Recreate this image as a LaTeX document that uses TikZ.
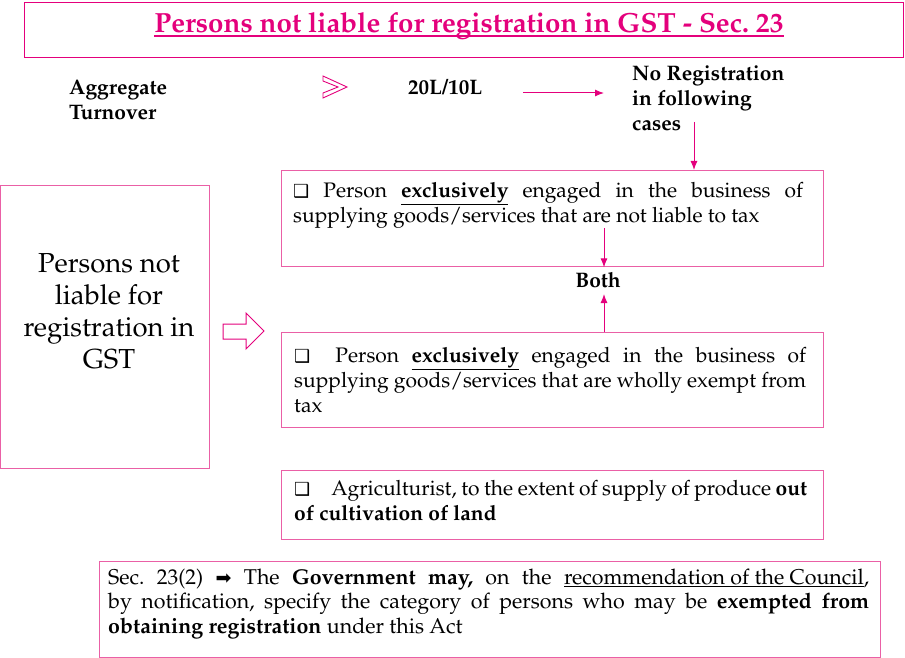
\documentclass[tikz,border=0pt]{standalone}
\usepackage[T1]{fontenc}
\usepackage{fontspec}
\newfontfamily\dejavu{DejaVu Sans}
\newcommand\pal{\fontencoding{T1}\fontfamily{ppl}\selectfont\frenchspacing}
\newcommand\sqb{{\dejavu\fontsize{18}{18}\selectfont ❑}}
\newcommand\myul[1]{$\underline{\hbox{#1}}$}
\definecolor{mag}{RGB}{228,0,124}
\definecolor{pinkb}{RGB}{234,96,166}
\usetikzlibrary{arrows.meta}
\tikzset{
  box/.style={draw=pinkb, line width=1.4pt, inner sep=0pt, anchor=north west},
  conn/.style={draw=mag, line width=1pt, -{Latex[length=9pt,width=7pt]}},
  txt/.style={inner sep=0pt, anchor=base west, font=\pal\fontsize{21}{25}\selectfont},
  lbl/.style={inner sep=0pt, anchor=base west, font=\pal\bfseries\fontsize{21}{25}\selectfont},
}
\begin{document}
\begin{tikzpicture}[x=1pt,y=-1pt]
\useasboundingbox (0,0) rectangle (905,658);
% title
\node[draw=mag, line width=1.4pt, minimum width=879, minimum height=55, anchor=north west] (tb) at (24,2) {};
\node[inner sep=0pt, anchor=base, font=\pal\bfseries\fontsize{27.7}{30}\selectfont, text=mag] (tt) at (469,33) {Persons not liable for registration in GST - Sec. 23};
\draw[mag, line width=1.2pt] ([yshift=-3pt]tt.base west) -- ([yshift=-3pt]tt.base east);
% top row
\node[lbl] (agg) at (69,95) {\parbox[t]{150pt}{\raggedright Aggregate\\Turnover}};
\draw[mag, line width=0.9pt, fill=white] (323,76) -- (347,87) -- (323,98) -- (323,93) -- (338,87) -- (323,81) -- cycle;
\node[lbl] (amt) at (408,95) {20L/10L};
\node[lbl] (noreg) at (632,81) {\parbox[t]{180pt}{\raggedright No Registration\\in following\\cases}};
\coordinate (a1s) at (523,93);
\coordinate (a1e) at (604,93);
\draw[conn] (a1s) -- (a1e);
% left box
\node[box, minimum width=209, minimum height=283] (lb) at (0,185) {};
\node[inner sep=0pt, anchor=base, font=\pal\fontsize{27.5}{32}\selectfont] (lbt) at (109,272) {\parbox[t]{205pt}{\centering Persons not\\liable for\\registration in\\GST}};
\draw[mag, line width=1pt, fill=white] (223,324) -- (246,324) -- (246,313) -- (264,331) -- (246,349) -- (246,339) -- (223,339) -- cycle;
% box 1
\node[box, minimum width=542, minimum height=96] (b1) at (281,170) {};
\node[txt] (t1) at (293,197) {\parbox[t]{510pt}{\sqb\ Person \textbf{\myul{exclusively}} engaged in the business of\linebreak supplying goods/services that are not liable to tax}};
% box 2
\node[box, minimum width=542, minimum height=95] (b2) at (281,332) {};
\node[txt] (t2) at (294,362) {\parbox[t]{512pt}{\sqb\ \ Person \textbf{\myul{exclusively}} engaged in the business of\linebreak supplying goods/services that are wholly exempt from\linebreak tax}};
% both
\node[inner sep=0pt, anchor=base, font=\pal\bfseries\fontsize{21}{25}\selectfont] (both) at (598,287) {Both};
\coordinate (c1) at (694,122);
\draw[conn] (c1) -- (c1 |- b1.north);
\coordinate (c2) at (604,228);
\draw[conn] (c2) -- (c2 |- b1.south);
\coordinate (c3) at (604,294);
\draw[conn] (c3 |- b2.north) -- (c3);
% box 3
\node[box, minimum width=542, minimum height=69] (b3) at (281,470) {};
\node[txt] (t3) at (294,495) {\parbox[t]{513pt}{\sqb\quad Agriculturist, to the extent of supply of produce \textbf{out}\linebreak \textbf{of cultivation of land}}};
% box 4
\node[box, minimum width=781, minimum height=96] (b4) at (99,561) {};
\node[txt, font=\pal\fontsize{21.4}{24.5}\selectfont] (t4) at (108,584) {\parbox[t]{761pt}{Sec. 23(2) {\dejavu\fontsize{19}{19}\selectfont ➡} The \textbf{Government may,} on the \myul{recommendation of the Council},\linebreak by notification, specify the category of persons who may be \textbf{exempted from}\linebreak \textbf{obtaining registration} under this Act}};
\end{tikzpicture}
\end{document}
